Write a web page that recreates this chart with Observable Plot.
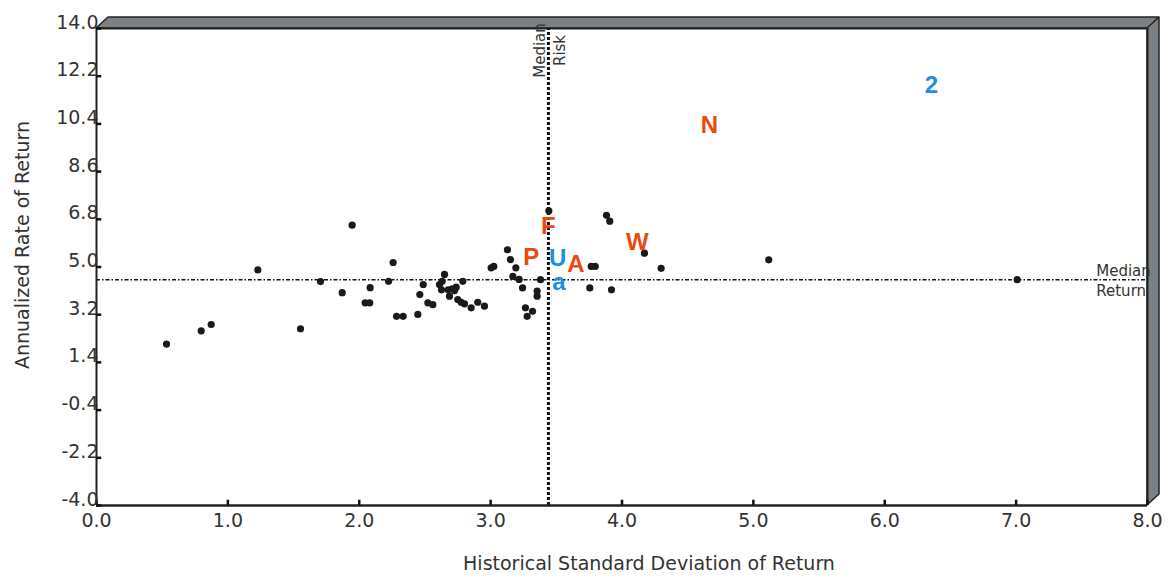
<!DOCTYPE html>
<html>
<head>
<meta charset="utf-8">
<script src="https://cdn.jsdelivr.net/npm/d3@7"></script>
<script src="https://cdn.jsdelivr.net/npm/@observablehq/plot@0.6"></script>
<style>
  html, body { margin: 0; padding: 0; background: #fff; }
  #chart svg { display: block; }
</style>
</head>
<body>
<div id="chart"></div>
<script>
// ---- Data ----
const riskValues = [0.533, 0.797, 0.873, 1.228, 1.553, 1.946, 1.705, 1.870, 2.045, 2.080,
  2.083, 2.223, 2.258, 2.284, 2.334, 2.446, 2.461, 2.487, 2.522, 2.560,
  2.611, 2.631, 2.649, 2.626, 2.677, 2.708, 2.738, 2.725, 2.687, 2.788,
  2.750, 2.776, 2.801, 2.852, 2.902, 2.953, 3.004, 3.024, 3.128, 3.151,
  3.192, 3.169, 3.217, 3.243, 3.354, 3.354, 3.380, 3.265, 3.319, 3.278,
  3.443, 3.766, 3.796, 3.755, 3.882, 3.907, 4.171, 3.920, 4.298, 5.117,
  7.008];
const returnValues = [2.09, 2.59, 2.83, 4.89, 2.67, 6.58, 4.45, 4.03, 3.65, 3.65,
  4.22, 4.46, 5.17, 3.14, 3.14, 3.21, 3.96, 4.34, 3.65, 3.58,
  4.34, 4.46, 4.72, 4.14, 4.14, 4.18, 4.24, 4.11, 3.90, 4.46,
  3.77, 3.67, 3.61, 3.46, 3.67, 3.52, 4.97, 5.02, 5.65, 5.28,
  4.97, 4.65, 4.53, 4.21, 4.09, 3.90, 4.52, 3.46, 3.33, 3.14,
  7.12, 5.02, 5.02, 4.21, 6.95, 6.73, 5.52, 4.14, 4.95, 5.27,
  4.52];

const letterNames  = ["2", "N", "F", "W", "P", "U", "A", "a"];
const letterRisk   = [6.355, 4.665, 3.44, 4.117, 3.31, 3.51, 3.65, 3.52];
const letterReturn = [11.85, 10.34, 6.53, 5.92, 5.36, 5.33, 5.12, 4.42];
const letterGroup  = ["Group B", "Group A", "Group A", "Group A", "Group A", "Group B", "Group A", "Group B"];

const medianRisk = 3.44;
const medianReturn = 4.52;

const xTicks = [0, 1, 2, 3, 4, 5, 6, 7, 8];
const yTicks = [-4.0, -2.2, -0.4, 1.4, 3.2, 5.0, 6.8, 8.6, 10.4, 12.2, 14.0];

const xTitle = "Historical Standard Deviation of Return";
const yTitle = "Annualized Rate of Return";

// ---- Build tables ----
const points = riskValues.map((r, i) => ({risk: r, ret: returnValues[i]}));
const letters = letterNames.map((n, i) => ({name: n, risk: letterRisk[i], ret: letterReturn[i], group: letterGroup[i]}));

const FONT = "'DejaVu Sans', sans-serif";
const BOLDFONT = "'Liberation Sans', Arial, sans-serif";
const TXT = "#333";

function frame3d(index, scales) {
  const {x, y} = scales;
  const x0 = x(0), x1 = x(8), yt = y(14), yb = y(-4);
  const dx = 12, dy = -11;
  const g = d3.create("svg:g");
  g.append("path")
    .attr("d", `M${x0},${yt}L${x0 + dx},${yt + dy}L${x1 + dx},${yt + dy}L${x1 + dx},${yb + dy}L${x1},${yb}L${x1},${yt}Z`)
    .attr("fill", "#7a8083")
    .attr("stroke", "#222")
    .attr("stroke-width", 1.5)
    .attr("stroke-linejoin", "round");
  g.append("path")
    .attr("d", `M${x1},${yt}L${x1 + dx},${yt + dy}`)
    .attr("stroke", "#222")
    .attr("stroke-width", 1.5);
  return g.node();
}

const chart = Plot.plot({
  width: 1173,
  height: 578,
  marginLeft: 96,
  marginRight: 26,
  marginTop: 28,
  marginBottom: 73,
  style: {fontFamily: FONT, background: "#fff", color: TXT},
  x: {domain: [0, 8]},
  y: {domain: [-4, 14]},
  color: {domain: ["Group A", "Group B"], range: ["#ea4a10", "#1a8fe3"]},
  marks: [
    frame3d,
    // frame edges
    Plot.ruleX([8], {y1: -4, y2: 14, stroke: "#222", strokeWidth: 2}),
    Plot.ruleY([14], {x1: 0, x2: 8, stroke: "#222", strokeWidth: 2}),
    // median lines
    Plot.ruleX([medianRisk], {y1: -4, y2: 14, stroke: "#111", strokeWidth: 3, strokeDasharray: "3,2"}),
    Plot.ruleY([medianReturn], {x1: 0, x2: 8, stroke: "#111", strokeWidth: 1.6, strokeDasharray: "4,2,1.5,2"}),
    // axes lines
    Plot.ruleX([0], {y1: -4, y2: 14, stroke: "#222", strokeWidth: 2}),
    Plot.ruleY([-4], {x1: 0, x2: 8, stroke: "#222", strokeWidth: 2.5}),
    // inner ticks
    Plot.ruleY(yTicks, {x1: 0, x2: 0.04, stroke: "#111", strokeWidth: 2.5}),
    Plot.ruleX(xTicks, {y1: -4, y2: -3.8, stroke: "#111", strokeWidth: 2.5}),
    // tick labels
    Plot.axisY({ticks: yTicks, tickFormat: d => d.toFixed(1), tickSize: 0, tickPadding: -2, dy: -6, fontSize: 19, fill: TXT, label: null}),
    Plot.axisX({ticks: xTicks, tickFormat: d => d.toFixed(1), tickSize: 0, tickPadding: 8, fontSize: 19, fill: TXT, label: null}),
    // axis titles
    Plot.text([xTitle], {frameAnchor: "bottom", textAnchor: "middle", lineAnchor: "middle", dx: 27, dy: 58, fontSize: 19, fill: TXT}),
    Plot.text([yTitle], {frameAnchor: "left", textAnchor: "middle", lineAnchor: "middle", rotate: -90, dx: -74, dy: -22, fontSize: 19, fill: TXT}),
    // median labels
    Plot.text(["Median\nRisk"], {x: medianRisk, y: 13.17, rotate: -90, textAnchor: "middle", lineAnchor: "middle", lineHeight: 1.35, fontSize: 15, fill: TXT}),
    Plot.text(["Median\nReturn"], {x: 7.61, y: medianReturn, textAnchor: "start", lineAnchor: "middle", lineHeight: 1.3, fontSize: 15, fill: TXT}),
    // data points
    Plot.dot(points, {x: "risk", y: "ret", r: 3.6, fill: "#1a1a1a"}),
    Plot.text(letters, {x: "risk", y: "ret", text: "name", fill: "group", fontSize: 24, fontWeight: "bold", fontFamily: BOLDFONT, lineAnchor: "middle"})
  ]
});

document.getElementById("chart").appendChild(chart);
</script>
</body>
</html>
